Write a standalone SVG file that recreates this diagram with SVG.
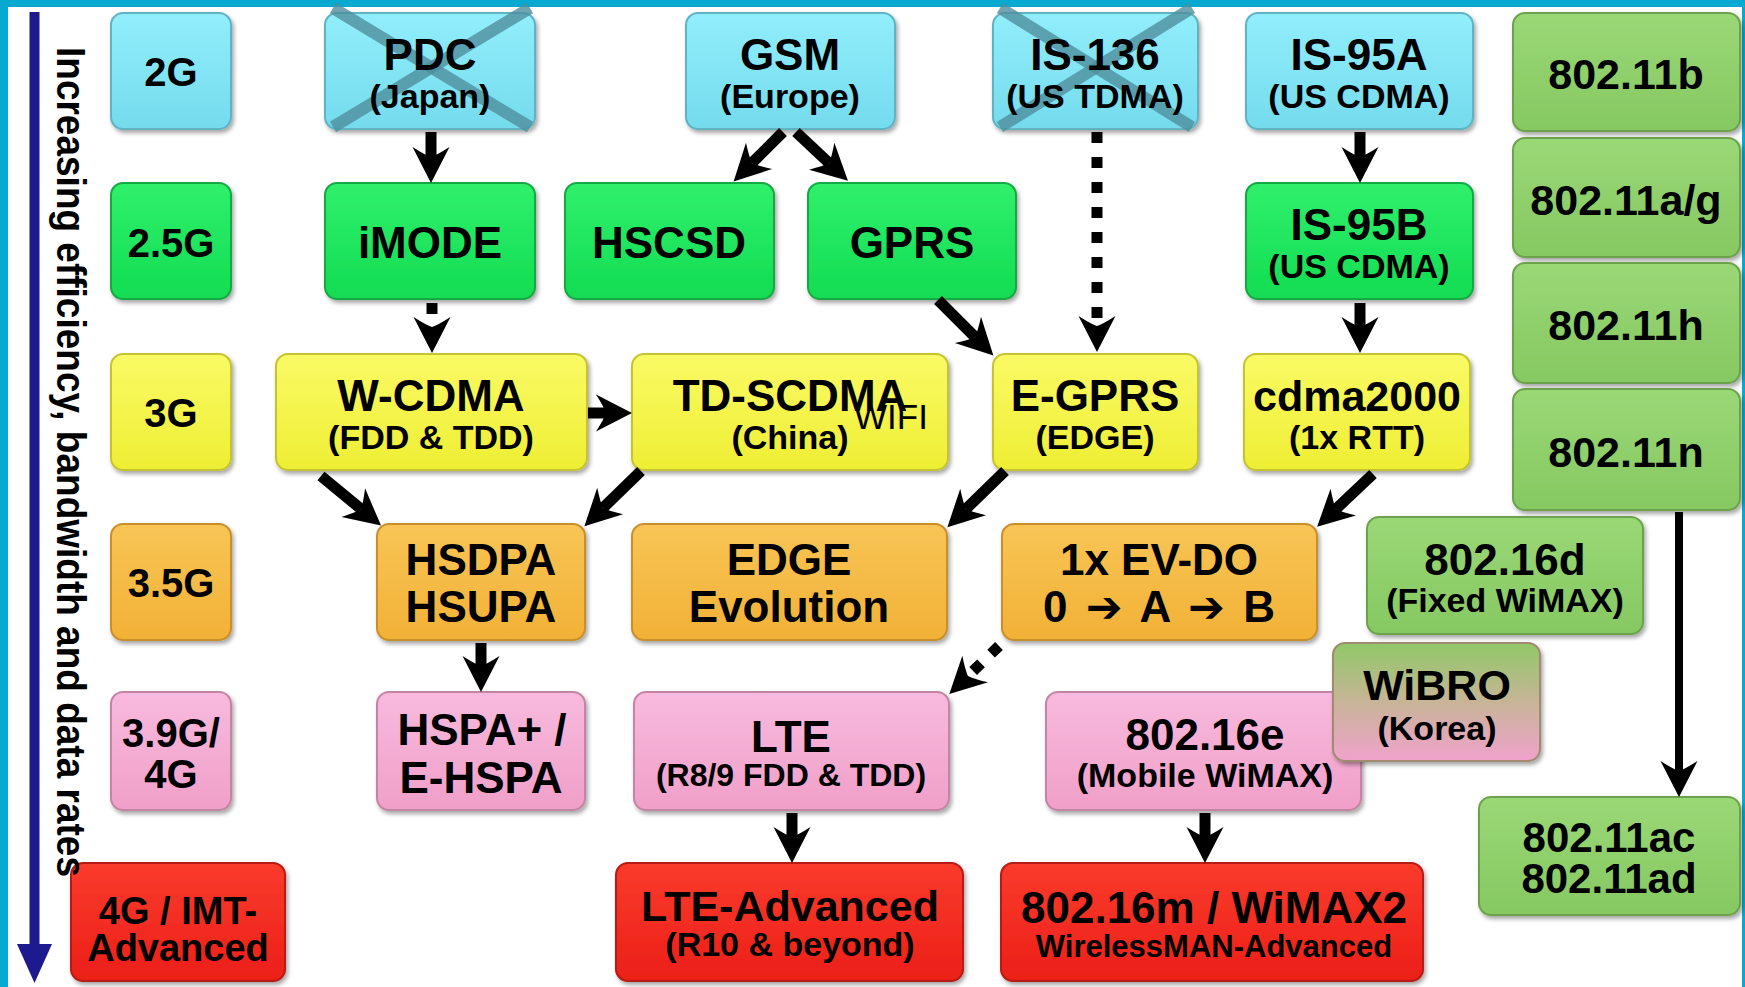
<svg xmlns="http://www.w3.org/2000/svg" width="1745" height="987" viewBox="0 0 1745 987">
<defs>
<style>
.t{font-family:"Liberation Sans",Arial,"DejaVu Sans",sans-serif;font-weight:bold;text-anchor:middle;fill:#000}
.f44{font-size:44px}.f43{font-size:43px}.f42{font-size:42px}.f40{font-size:40px}.f38{font-size:38px}.f34{font-size:34px}.f32{font-size:32px}.f31{font-size:31px}
.box{stroke-width:2;filter:url(#sh)}
.blue{fill:url(#gBlue);stroke:#5fb3c3}
.green{fill:url(#gGreen);stroke:#14a844}
.yellow{fill:url(#gYellow);stroke:#c4c430}
.orange{fill:url(#gOrange);stroke:#c88f2c}
.pink{fill:url(#gPink);stroke:#c385a4}
.red{fill:url(#gRed);stroke:#b51a12}
.olive{fill:url(#gOlive);stroke:#6ca24c}
.wibro{fill:url(#gWibro);stroke:#a08a70}
.cross{stroke:#4f8f9d;stroke-width:12;stroke-opacity:0.8;stroke-linecap:butt}
.arr{stroke:#000;stroke-width:11;fill:none;marker-end:url(#ah)}
.dot{stroke:#000;stroke-width:11;fill:none;stroke-dasharray:11 14;marker-end:url(#ah)}
</style>
<filter id="sh" x="-10%" y="-10%" width="125%" height="135%">
<feDropShadow dx="2" dy="3" stdDeviation="2" flood-color="#000" flood-opacity="0.35"/>
</filter>
<linearGradient id="gBlue" x1="0" y1="0" x2="0" y2="1"><stop offset="0" stop-color="#92eefb"/><stop offset="1" stop-color="#74dbed"/></linearGradient>
<linearGradient id="gGreen" x1="0" y1="0" x2="0" y2="1"><stop offset="0" stop-color="#30f06c"/><stop offset="1" stop-color="#12dc52"/></linearGradient>
<linearGradient id="gYellow" x1="0" y1="0" x2="0" y2="1"><stop offset="0" stop-color="#fafa66"/><stop offset="1" stop-color="#eeee34"/></linearGradient>
<linearGradient id="gOrange" x1="0" y1="0" x2="0" y2="1"><stop offset="0" stop-color="#f8c556"/><stop offset="1" stop-color="#f2b136"/></linearGradient>
<linearGradient id="gPink" x1="0" y1="0" x2="0" y2="1"><stop offset="0" stop-color="#f8bade"/><stop offset="1" stop-color="#f09fc8"/></linearGradient>
<linearGradient id="gRed" x1="0" y1="0" x2="0" y2="1"><stop offset="0" stop-color="#fa3b2c"/><stop offset="1" stop-color="#ec1f18"/></linearGradient>
<linearGradient id="gOlive" x1="0" y1="0" x2="0" y2="1"><stop offset="0" stop-color="#9ad876"/><stop offset="1" stop-color="#86c862"/></linearGradient>
<linearGradient id="gWibro" x1="0" y1="0" x2="0" y2="1"><stop offset="0" stop-color="#90c866"/><stop offset="0.5" stop-color="#c8b498"/><stop offset="1" stop-color="#f0a2cc"/></linearGradient>
<marker id="ah" markerUnits="userSpaceOnUse" markerWidth="44" markerHeight="44" viewBox="-14 -22 44 44" refX="0" refY="0" orient="auto">
<path d="M26,0 L-10,-18.5 Q-2,-6 0,0 Q-2,6 -10,18.5 Z" fill="#000"/>
</marker>
</defs>

<rect x="0" y="0" width="1745" height="987" fill="#fff"/>

<g id="frame">
<rect x="0" y="0" width="1745" height="7" fill="#06aad0"/>
<rect x="0" y="0" width="8" height="987" fill="#06aad0"/>
<rect x="1742" y="0" width="3" height="987" fill="#06aad0"/>
</g>

<g id="nodes">
<g id="n2G"><rect class="box blue" x="111" y="13" width="120" height="116" rx="12"/><text class="t f40" x="171" y="86">2G</text></g>
<g id="nPDC"><rect class="box blue" x="325" y="13" width="210" height="116" rx="12"/><line class="cross" x1="333" y1="8" x2="530" y2="127"/><line class="cross" x1="530" y1="8" x2="333" y2="127"/><text class="t f44" x="430" y="70">PDC</text><text class="t f34" x="430" y="108">(Japan)</text></g>
<g id="nGSM"><rect class="box blue" x="686" y="13" width="209" height="116" rx="12"/><text class="t f44" x="790" y="70">GSM</text><text class="t f34" x="790" y="108">(Europe)</text></g>
<g id="nIS136"><rect class="box blue" x="993" y="13" width="205" height="116" rx="12"/><line class="cross" x1="1000" y1="8" x2="1192" y2="127"/><line class="cross" x1="1192" y1="8" x2="1000" y2="127"/><text class="t f44" x="1095" y="70">IS-136</text><text class="t f34" x="1095" y="108">(US TDMA)</text></g>
<g id="nIS95A"><rect class="box blue" x="1246" y="13" width="227" height="116" rx="12"/><text class="t f44" x="1359" y="70">IS-95A</text><text class="t f34" x="1359" y="108">(US CDMA)</text></g>
<g id="n80211b"><rect class="box olive" x="1513" y="13" width="227" height="118" rx="12"/><text class="t f43" x="1626" y="89">802.11b</text></g>

<g id="n25G"><rect class="box green" x="111" y="183" width="120" height="116" rx="12"/><text class="t f40" x="171" y="257">2.5G</text></g>
<g id="niMODE"><rect class="box green" x="325" y="183" width="210" height="116" rx="12"/><text class="t f44" x="430" y="258">iMODE</text></g>
<g id="nHSCSD"><rect class="box green" x="565" y="183" width="209" height="116" rx="12"/><text class="t f44" x="669" y="258">HSCSD</text></g>
<g id="nGPRS"><rect class="box green" x="808" y="183" width="208" height="116" rx="12"/><text class="t f44" x="912" y="258">GPRS</text></g>
<g id="nIS95B"><rect class="box green" x="1246" y="183" width="227" height="116" rx="12"/><text class="t f44" x="1359" y="240">IS-95B</text><text class="t f34" x="1359" y="278">(US CDMA)</text></g>
<g id="n80211ag"><rect class="box olive" x="1513" y="138" width="227" height="119" rx="12"/><text class="t f43" x="1626" y="215">802.11a/g</text></g>
<g id="n80211h"><rect class="box olive" x="1513" y="263" width="227" height="120" rx="12"/><text class="t f43" x="1626" y="340">802.11h</text></g>
<g id="n80211n"><rect class="box olive" x="1513" y="389" width="227" height="121" rx="12"/><text class="t f43" x="1626" y="467">802.11n</text></g>

<g id="n3G"><rect class="box yellow" x="111" y="354" width="120" height="116" rx="12"/><text class="t f40" x="171" y="427">3G</text></g>
<g id="nWCDMA"><rect class="box yellow" x="276" y="354" width="311" height="116" rx="12"/><text class="t f44" x="431" y="411">W-CDMA</text><text class="t f34" x="431" y="449">(FDD &amp; TDD)</text></g>
<g id="nTDSCDMA"><rect class="box yellow" x="632" y="354" width="316" height="116" rx="12"/><text class="t f44" x="790" y="411">TD-SCDMA</text><text class="t f34" x="790" y="449">(China)</text><text x="854" y="429" font-family="Liberation Sans, Arial, sans-serif" font-size="35" fill="#000">WIFI</text></g>
<g id="nEGPRS"><rect class="box yellow" x="993" y="354" width="205" height="116" rx="12"/><text class="t f44" x="1095" y="411">E-GPRS</text><text class="t f34" x="1095" y="449">(EDGE)</text></g>
<g id="ncdma2000"><rect class="box yellow" x="1244" y="354" width="226" height="116" rx="12"/><text class="t f43" x="1357" y="411">cdma2000</text><text class="t f34" x="1357" y="449">(1x RTT)</text></g>

<g id="n35G"><rect class="box orange" x="111" y="524" width="120" height="116" rx="12"/><text class="t f40" x="171" y="597">3.5G</text></g>
<g id="nHSDPA"><rect class="box orange" x="377" y="524" width="208" height="116" rx="12"/><text class="t f44" x="481" y="575">HSDPA</text><text class="t f44" x="481" y="622">HSUPA</text></g>
<g id="nEDGEEvo"><rect class="box orange" x="632" y="524" width="315" height="116" rx="12"/><text class="t f44" x="789" y="575">EDGE</text><text class="t f44" x="789" y="622">Evolution</text></g>
<g id="nEVDO"><rect class="box orange" x="1002" y="524" width="315" height="116" rx="12"/><text class="t f44" x="1159" y="575">1x EV-DO</text><text class="t f44" x="1159" y="622" textLength="232" lengthAdjust="spacing">0 ➔ A ➔ B</text></g>
<g id="n80216d"><rect class="box olive" x="1367" y="517" width="276" height="117" rx="12"/><text class="t f44" x="1505" y="575">802.16d</text><text class="t f34" x="1505" y="612">(Fixed WiMAX)</text></g>

<g id="n39G"><rect class="box pink" x="111" y="692" width="120" height="118" rx="12"/><text class="t f40" x="171" y="747">3.9G/</text><text class="t f40" x="171" y="788">4G</text></g>
<g id="nHSPAp"><rect class="box pink" x="377" y="692" width="208" height="118" rx="12"/><text class="t f44" x="482" y="745">HSPA+ /</text><text class="t f44" x="481" y="793">E-HSPA</text></g>
<g id="nLTE"><rect class="box pink" x="634" y="692" width="315" height="118" rx="12"/><text class="t f44" x="791" y="752">LTE</text><text class="t f32" x="791" y="786">(R8/9 FDD &amp; TDD)</text></g>
<g id="n80216e"><rect class="box pink" x="1046" y="692" width="315" height="118" rx="12"/><text class="t f44" x="1205" y="750">802.16e</text><text class="t f34" x="1205" y="787">(Mobile WiMAX)</text></g>
<g id="nWiBRO"><rect class="box wibro" x="1333" y="643" width="207" height="118" rx="12"/><text class="t f43" x="1437" y="700">WiBRO</text><text class="t f34" x="1437" y="740">(Korea)</text></g>
<g id="n80211acad"><rect class="box olive" x="1479" y="797" width="261" height="118" rx="12"/><text class="t f42" x="1609" y="852">802.11ac</text><text class="t f42" x="1609" y="893">802.11ad</text></g>

<g id="n4G"><rect class="box red" x="71" y="863" width="214" height="118" rx="12"/><text class="t f38" x="178" y="924">4G / IMT-</text><text class="t f38" x="178" y="961">Advanced</text></g>
<g id="nLTEA"><rect class="box red" x="616" y="863" width="347" height="118" rx="12"/><text class="t f43" x="790" y="921">LTE-Advanced</text><text class="t f34" x="790" y="956">(R10 &amp; beyond)</text></g>
<g id="n80216m"><rect class="box red" x="1001" y="863" width="422" height="118" rx="12"/><text class="t f44" x="1214" y="923">802.16m / WiMAX2</text><text class="t f31" x="1214" y="957">WirelessMAN-Advanced</text></g>
</g>

<g id="connectors">
<line class="arr" x1="431" y1="132" x2="431" y2="157"/>
<line class="dot" x1="432" y1="303" x2="432" y2="327"/>
<line class="arr" x1="783" y1="132" x2="752" y2="163"/>
<line class="arr" x1="796" y1="132" x2="829" y2="163"/>
<line class="dot" x1="1097" y1="132" x2="1097" y2="326"/>
<line class="arr" x1="938" y1="300" x2="975" y2="337"/>
<line class="arr" x1="588" y1="413" x2="606" y2="413"/>
<line class="arr" x1="321" y1="476" x2="361" y2="509"/>
<line class="arr" x1="641" y1="471" x2="603" y2="508"/>
<line class="arr" x1="1005" y1="471" x2="966" y2="509"/>
<line class="arr" x1="1360" y1="132" x2="1360" y2="157"/>
<line class="arr" x1="1360" y1="303" x2="1360" y2="327"/>
<line class="arr" x1="1373" y1="474" x2="1336" y2="509"/>
<line class="arr" x1="481" y1="643" x2="481" y2="666"/>
<line class="dot" x1="999" y1="646" x2="968" y2="676"/>
<line class="arr" x1="792" y1="813" x2="792" y2="837"/>
<line class="arr" x1="1205" y1="813" x2="1205" y2="837"/>
<line class="arr" style="stroke-width:8" x1="1679" y1="512" x2="1679" y2="771"/>
</g>

<g id="axis">
<line x1="34.5" y1="12" x2="34.5" y2="946" stroke="#1c1a8e" stroke-width="10"/>
<path d="M17,944 L52,944 L34.5,983 Z" fill="#1c1a8e"/>
<text transform="translate(57,47) rotate(90)" x="0" y="0" font-family="Liberation Sans, Arial, sans-serif" font-weight="bold" font-size="40" textLength="830" lengthAdjust="spacingAndGlyphs" fill="#000">Increasing efficiency, bandwidth and data rates</text>
</g>
</svg>
